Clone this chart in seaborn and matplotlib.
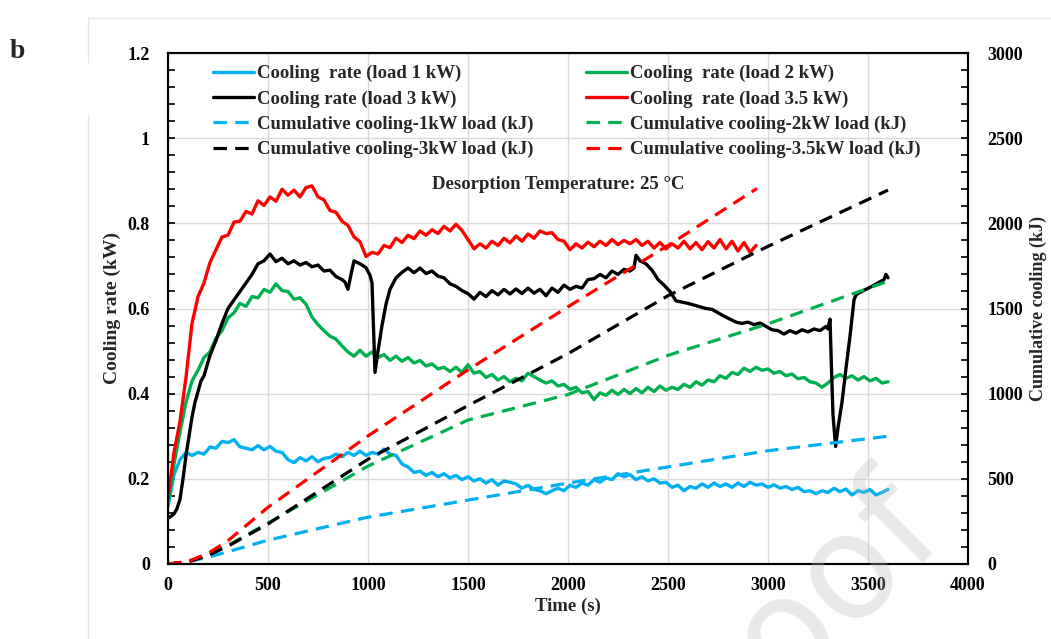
import numpy as np
import pandas as pd
import matplotlib
matplotlib.use("Agg")
import matplotlib.pyplot as plt
import seaborn as sns
from matplotlib.ticker import MultipleLocator, FixedLocator, FixedFormatter

# ---------------- data ----------------
t30_red = np.arange(0, 2941, 30)
red_rate = [0.155, 0.262, 0.335, 0.438, 0.565, 0.628, 0.66, 0.708, 0.738, 0.768,
            0.772, 0.803, 0.805, 0.828, 0.822, 0.853, 0.842, 0.862, 0.852, 0.88,
            0.866, 0.878, 0.862, 0.884, 0.888, 0.862, 0.855, 0.83, 0.826, 0.805,
            0.795, 0.768, 0.757, 0.722, 0.732, 0.728, 0.748, 0.743, 0.765, 0.755,
            0.772, 0.764, 0.782, 0.772, 0.785, 0.776, 0.793, 0.782, 0.798, 0.783,
            0.762, 0.74, 0.752, 0.742, 0.758, 0.748, 0.765, 0.754, 0.77, 0.758,
            0.775, 0.765, 0.782, 0.776, 0.778, 0.762, 0.758, 0.738, 0.752, 0.742,
            0.756, 0.745, 0.758, 0.748, 0.762, 0.75, 0.76, 0.752, 0.762, 0.748,
            0.758, 0.742, 0.755, 0.74, 0.752, 0.742, 0.758, 0.74, 0.755, 0.738,
            0.757, 0.742, 0.762, 0.74, 0.758, 0.735, 0.755, 0.732, 0.748]

black_t = [0, 15, 30, 45, 60, 75, 90, 105, 120, 135, 150, 165, 180, 210, 240, 270, 300,
           330, 360, 390, 420, 450, 480, 510, 540, 570, 600, 630, 660, 690, 720, 750,
           780, 810, 840, 870, 885, 900, 915, 930, 960, 990, 1010, 1020, 1035, 1050,
           1070, 1090, 1110, 1140, 1170, 1200, 1230, 1260, 1290, 1320, 1350, 1380,
           1410, 1440, 1470, 1500, 1530, 1560, 1590, 1620, 1650, 1680, 1710, 1740,
           1770, 1800, 1830, 1860, 1890, 1920, 1950, 1980, 2010, 2040, 2070, 2100,
           2130, 2160, 2190, 2220, 2250, 2280, 2310, 2330, 2340, 2360, 2390, 2420,
           2450, 2480, 2510, 2540, 2570, 2600, 2630, 2660, 2690, 2720, 2750, 2780,
           2810, 2840, 2870, 2900, 2930, 2960, 2990, 3020, 3050, 3080, 3110, 3140,
           3170, 3200, 3230, 3260, 3290, 3300, 3310, 3318, 3325, 3338, 3350, 3370,
           3390, 3410, 3430, 3440, 3460, 3490, 3520, 3550, 3580, 3590, 3600]
black_rate = [0.107, 0.112, 0.118, 0.13, 0.152, 0.2, 0.255, 0.3, 0.345, 0.38, 0.405,
              0.43, 0.442, 0.49, 0.525, 0.565, 0.6, 0.62, 0.64, 0.66, 0.68, 0.705,
              0.712, 0.728, 0.71, 0.718, 0.705, 0.712, 0.702, 0.708, 0.698, 0.702,
              0.688, 0.69, 0.675, 0.668, 0.662, 0.645, 0.68, 0.712, 0.705, 0.696,
              0.678, 0.66, 0.45, 0.5, 0.56, 0.61, 0.645, 0.672, 0.685, 0.695, 0.684,
              0.695, 0.682, 0.688, 0.676, 0.672, 0.658, 0.652, 0.642, 0.635, 0.622,
              0.638, 0.628, 0.642, 0.632, 0.645, 0.634, 0.646, 0.635, 0.648, 0.636,
              0.645, 0.63, 0.648, 0.638, 0.655, 0.645, 0.652, 0.648, 0.668, 0.67,
              0.68, 0.672, 0.688, 0.68, 0.692, 0.688, 0.695, 0.725, 0.712, 0.705,
              0.69, 0.668, 0.655, 0.64, 0.618, 0.615, 0.612, 0.608, 0.604, 0.6,
              0.598, 0.59, 0.582, 0.575, 0.568, 0.565, 0.568, 0.562, 0.566, 0.558,
              0.55, 0.548, 0.54, 0.548, 0.542, 0.55, 0.545, 0.552, 0.548, 0.558,
              0.552, 0.575, 0.45, 0.35, 0.276, 0.32, 0.38, 0.46, 0.535, 0.62, 0.632,
              0.638, 0.645, 0.652, 0.66, 0.668, 0.68, 0.672]

t30 = np.arange(0, 3601, 30)
green_rate = [0.142, 0.235, 0.31, 0.38, 0.43, 0.455, 0.485, 0.498, 0.53, 0.548,
              0.578, 0.59, 0.612, 0.605, 0.628, 0.625, 0.645, 0.638, 0.658, 0.642,
              0.64, 0.622, 0.625, 0.61, 0.58, 0.562, 0.548, 0.535, 0.528, 0.512,
              0.498, 0.488, 0.502, 0.488, 0.498, 0.485, 0.492, 0.478, 0.488, 0.476,
              0.485, 0.472, 0.478, 0.465, 0.47, 0.458, 0.462, 0.452, 0.462, 0.45,
              0.468, 0.448, 0.452, 0.438, 0.445, 0.432, 0.44, 0.428, 0.436, 0.43,
              0.448, 0.44, 0.432, 0.425, 0.43, 0.418, 0.422, 0.41, 0.415, 0.402,
              0.405, 0.386, 0.402, 0.396, 0.408, 0.398, 0.41, 0.4, 0.412, 0.402,
              0.415, 0.405, 0.418, 0.408, 0.415, 0.41, 0.422, 0.415, 0.428, 0.42,
              0.432, 0.428, 0.442, 0.436, 0.45, 0.445, 0.46, 0.452, 0.462, 0.455,
              0.458, 0.448, 0.452, 0.442, 0.446, 0.435, 0.438, 0.428, 0.425, 0.415,
              0.425, 0.438, 0.445, 0.436, 0.442, 0.432, 0.44, 0.43, 0.436, 0.425,
              0.428]
blue_rate = [0.135, 0.21, 0.245, 0.262, 0.255, 0.262, 0.258, 0.275, 0.272, 0.288,
             0.285, 0.292, 0.275, 0.272, 0.268, 0.278, 0.268, 0.276, 0.265, 0.262,
             0.245, 0.238, 0.25, 0.242, 0.252, 0.24, 0.248, 0.25, 0.258, 0.252,
             0.262, 0.255, 0.265, 0.255, 0.262, 0.258, 0.27, 0.258, 0.255, 0.235,
             0.228, 0.215, 0.218, 0.208, 0.215, 0.205, 0.212, 0.202, 0.208, 0.198,
             0.205, 0.195, 0.2, 0.19, 0.198, 0.185, 0.195, 0.192, 0.188, 0.178,
             0.185, 0.175, 0.172, 0.165, 0.172, 0.178, 0.172, 0.185, 0.18, 0.19,
             0.185, 0.198, 0.192, 0.202, 0.198, 0.212, 0.205, 0.21, 0.198, 0.205,
             0.195, 0.2, 0.19, 0.192, 0.18, 0.185, 0.172, 0.182, 0.178, 0.188,
             0.18, 0.19, 0.182, 0.188, 0.18, 0.19, 0.182, 0.192, 0.185, 0.188,
             0.18, 0.186, 0.178, 0.182, 0.175, 0.18, 0.17, 0.172, 0.165, 0.172,
             0.168, 0.178, 0.17, 0.176, 0.162, 0.172, 0.168, 0.175, 0.162, 0.168,
             0.175]

# cumulative cooling (kJ)
cum_t = [0, 100, 200, 300, 500, 1000, 1500, 2000, 2500, 3000, 3600]
cum_1kw = [0, 14, 40, 72, 140, 275, 375, 475, 570, 665, 750]
cum_2kw = [0, 14, 58, 110, 240, 575, 845, 995, 1225, 1410, 1660]
cum_3kw = [0, 12, 50, 105, 235, 615, 930, 1235, 1575, 1865, 2195]
cum35_t = [0, 100, 200, 300, 500, 1000, 1500, 2000, 2500, 2945]
cum_35kw = [0, 15, 62, 137, 333, 752, 1140, 1510, 1870, 2205]

x_ticks = [0, 500, 1000, 1500, 2000, 2500, 3000, 3500, 4000]
y_ticks = [0, 0.2, 0.4, 0.6, 0.8, 1.0, 1.2]
y_tick_labels = ["0", "0.2", "0.4", "0.6", "0.8", "1", "1.2"]
y2_ticks = [0, 500, 1000, 1500, 2000, 2500, 3000]

BLUE = "#00B0F0"
GREEN = "#00B050"
BLACK = "#000000"
RED = "#FF0000"

# ---------------- style ----------------
sns.set_theme(style="white")
plt.rcParams['font.family'] = ['Liberation Serif', 'DejaVu Serif']
plt.rcParams['font.weight'] = 'bold'
plt.rcParams['axes.labelweight'] = 'bold'

fig = plt.figure(figsize=(10.51, 6.39), dpi=100)
ax = fig.add_axes([168 / 1051, 1 - 564 / 639, 800 / 1051, 511 / 639])
ax2 = ax.twinx()

LW = 2.4
sns.lineplot(x=t30, y=blue_rate, ax=ax, color=BLUE, lw=LW, estimator=None,
             label="Cooling  rate (load 1 kW)")
sns.lineplot(x=t30, y=green_rate, ax=ax, color=GREEN, lw=LW, estimator=None,
             label="Cooling  rate (load 2 kW)")
sns.lineplot(x=black_t, y=black_rate, ax=ax, color=BLACK, lw=LW, estimator=None,
             label="Cooling rate (load 3 kW)")
sns.lineplot(x=t30_red, y=red_rate, ax=ax, color=RED, lw=LW, estimator=None,
             label="Cooling  rate (load 3.5 kW)")

dash = (0, (4.2, 2.6))
sns.lineplot(x=cum_t, y=cum_1kw, ax=ax2, color=BLUE, lw=2.3, linestyle=dash,
             estimator=None, label="Cumulative cooling-1kW load (kJ)")
sns.lineplot(x=cum_t, y=cum_2kw, ax=ax2, color=GREEN, lw=2.3, linestyle=dash,
             estimator=None, label="Cumulative cooling-2kW load (kJ)")
sns.lineplot(x=cum_t, y=cum_3kw, ax=ax2, color=BLACK, lw=2.3, linestyle=dash,
             estimator=None, label="Cumulative cooling-3kW load (kJ)")
sns.lineplot(x=cum35_t, y=cum_35kw, ax=ax2, color=RED, lw=2.3, linestyle=dash,
             estimator=None, label="Cumulative cooling-3.5kW load (kJ)")

ax.set_xlim(0, 4000)
ax.set_ylim(0, 1.2)
ax2.set_ylim(0, 3000)

ax.xaxis.set_major_locator(FixedLocator(x_ticks))
ax.xaxis.set_minor_locator(MultipleLocator(100))
ax.yaxis.set_major_locator(FixedLocator(y_ticks))
ax.yaxis.set_major_formatter(FixedFormatter(y_tick_labels))
ax.yaxis.set_minor_locator(MultipleLocator(0.04))
ax2.yaxis.set_major_locator(FixedLocator(y2_ticks))
ax2.yaxis.set_minor_locator(MultipleLocator(100))

FS_TICK = 13
FS = 13.5
for a in (ax, ax2):
    a.tick_params(axis='both', which='both', direction='in', labelsize=FS_TICK,
                  width=1.2, colors='black')
    a.tick_params(which='major', length=5)
    a.tick_params(which='minor', length=5)
    for lab in a.get_xticklabels() + a.get_yticklabels():
        lab.set_fontweight('bold')
ax.tick_params(axis='y', pad=13)
ax.tick_params(axis='x', pad=9)
ax2.tick_params(axis='y', pad=14)

ax.grid(True, which='major', color='#d9d9d9', lw=1.0)
ax.set_axisbelow(True)
for a in (ax, ax2):
    for s in a.spines.values():
        s.set_color('black')
        s.set_linewidth(1.5)

ax.set_xlabel("Time (s)", fontsize=FS, fontweight='bold', labelpad=3)
ax.set_ylabel("Cooling rate (kW)", fontsize=14, fontweight='bold', labelpad=5)
ax2.set_ylabel("Cumulative cooling (kJ)", fontsize=13, fontweight='bold', labelpad=5)

ax.text(1950, 0.892, "Desorption Temperature: 25 °C", ha='center', va='center',
        fontsize=FS, fontweight='bold')

# legend (2 columns)
h1, l1 = ax.get_legend_handles_labels()
h2, l2 = ax2.get_legend_handles_labels()
if ax.get_legend() is not None:
    ax.get_legend().remove()
if ax2.get_legend() is not None:
    ax2.get_legend().remove()
hd = dict(zip(l1 + l2, h1 + h2))
order = ["Cooling  rate (load 1 kW)", "Cooling rate (load 3 kW)",
         "Cumulative cooling-1kW load (kJ)", "Cumulative cooling-3kW load (kJ)",
         "Cooling  rate (load 2 kW)", "Cooling  rate (load 3.5 kW)",
         "Cumulative cooling-2kW load (kJ)", "Cumulative cooling-3.5kW load (kJ)"]
leg = ax2.legend([hd[k] for k in order], order, ncol=2, loc='upper left',
                 bbox_to_anchor=((213 - 168) / 800, (564 - 65) / 511),
                 frameon=False, handlelength=2.2, handletextpad=0.15,
                 columnspacing=2.8, labelspacing=0.43, borderpad=0, borderaxespad=0,
                 prop={'weight': 'bold', 'size': FS})

fig.text(10 / 1051, 1 - 52 / 639, "b", fontsize=20, fontweight='bold',
         ha='left', va='center')

# page edge lines and watermark fragment
fig.add_artist(plt.Line2D([88 / 1051, 1], [1 - 18 / 639, 1 - 18 / 639],
                          color='#e6e6e6', lw=1, transform=fig.transFigure))
fig.add_artist(plt.Line2D([88 / 1051, 88 / 1051], [1 - 18 / 639, 1 - 62 / 639],
                          color='#e6e6e6', lw=1, transform=fig.transFigure))
fig.add_artist(plt.Line2D([88 / 1051, 88 / 1051], [1 - 115 / 639, 0],
                          color='#e6e6e6', lw=1, transform=fig.transFigure))
fig.text(815 / 1051, 1 - 600 / 639, "roof", fontsize=105, color='#b8b8b8',
         alpha=0.3, rotation=45, ha='center', va='center',
         fontfamily=['DejaVu Sans'], fontweight='normal')

fig.savefig("out.png", dpi=100)
